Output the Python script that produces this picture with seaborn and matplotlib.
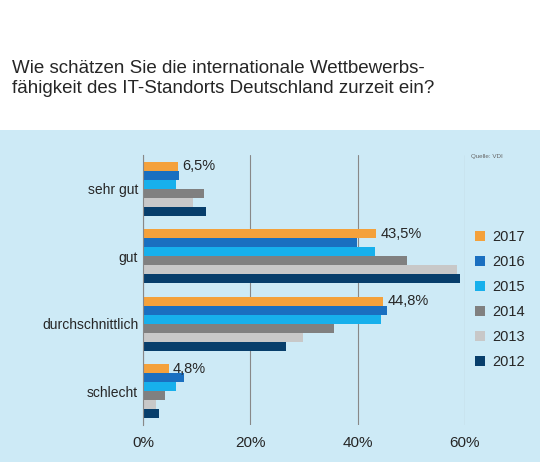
import matplotlib.pyplot as plt
import seaborn as sns
import pandas as pd

categories = ["sehr gut", "gut", "durchschnittlich", "schlecht"]
years = ["2017", "2016", "2015", "2014", "2013", "2012"]
values = {
    "2017": [6.5, 43.5, 44.8, 4.8],
    "2016": [6.7, 39.8, 45.4, 7.7],
    "2015": [6.2, 43.2, 44.3, 6.2],
    "2014": [11.4, 49.2, 35.5, 4.0],
    "2013": [9.3, 58.5, 29.8, 2.4],
    "2012": [11.7, 59.1, 26.6, 2.9],
}
colors = ["#F4A13B", "#1A6FC0", "#17B0EC", "#808080", "#C8C8C8", "#073E6B"]

rows = []
for y in years:
    for c, v in zip(categories, values[y]):
        rows.append({"Kategorie": c, "Jahr": y, "Wert": v})
df = pd.DataFrame(rows)

sns.set_style("white")
plt.rcParams["font.family"] = ["Liberation Sans", "DejaVu Sans"]

fig = plt.figure(figsize=(5.4, 4.62), dpi=100)
fig.patch.set_facecolor("white")

# hellblauer Hintergrund unter dem Titel
bg = fig.add_axes([0, 0, 1, 1 - 130 / 462], zorder=0)
bg.set_facecolor("#CDEAF6")
bg.set_xticks([])
bg.set_yticks([])
for s in bg.spines.values():
    s.set_visible(False)

fig.text(0.022, 0.87, "Wie schätzen Sie die internationale Wettbewerbs-\nfähigkeit des IT-Standorts Deutschland zurzeit ein?",
         fontsize=13.5, va="top", ha="left", linespacing=1.25)
fig.text(0.872, 0.658, "Quelle: VDI", fontsize=4.5, color="#666666")

ax = fig.add_axes([0.265, 0.08, 0.596, 0.585], zorder=1)
ax.set_facecolor("none")
sns.barplot(data=df, y="Kategorie", x="Wert", hue="Jahr", hue_order=years,
            palette=colors, saturation=1, orient="h", width=0.8, ax=ax,
            legend=True, linewidth=0)
ax.set_xlim(0, 60)
ax.set_xticks([0, 20, 40, 60])
ax.set_xticklabels(["0%", "20%", "40%", "60%"], fontsize=11)
ax.tick_params(axis="y", labelsize=10, length=0)
ax.tick_params(axis="x", length=0, pad=8)
ax.set_xlabel("")
ax.set_ylabel("")
ax.xaxis.grid(True, color="#888888", linewidth=0.8)
ax.set_axisbelow(True)
for s in ["top", "right", "bottom"]:
    ax.spines[s].set_visible(False)
ax.spines["left"].set_color("#888888")

ax.bar_label(ax.containers[0], labels=[f"{v:.1f}%".replace(".", ",") for v in values["2017"]],
             padding=3, fontsize=10.5)

h, l = ax.get_legend_handles_labels()
ax.get_legend().remove()
fig.legend(h, l, loc="upper left", bbox_to_anchor=(0.855, 0.53), frameon=False,
           fontsize=10.5, handlelength=0.7, handleheight=0.7, labelspacing=0.75,
           handletextpad=0.5)

fig.savefig("out.png", dpi=100)
